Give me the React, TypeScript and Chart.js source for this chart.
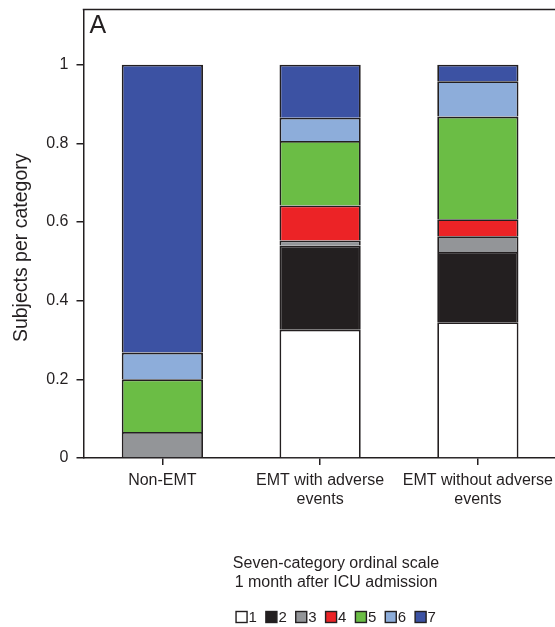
import React, { useEffect, useRef } from 'react';
import { Chart, registerables } from 'chart.js';

Chart.register(...registerables);

// ---- data ----
const categories = [['Non-EMT'], ['EMT with adverse', 'events'], ['EMT without adverse', 'events']];
const scaleLevels = ['1', '2', '3', '4', '5', '6', '7'];
const level1 = [0, 0.326, 0.345];
const level2 = [0, 0.214, 0.179];
const level3 = [0.066, 0.013, 0.04];
const level4 = [0, 0.089, 0.043];
const level5 = [0.134, 0.164, 0.261];
const level6 = [0.068, 0.059, 0.09];
const level7 = [0.732, 0.135, 0.042];
const levelValues = [level1, level2, level3, level4, level5, level6, level7];
const levelColors = ['#ffffff', '#231f20', '#939598', '#ec2326', '#6bbd45', '#8dadda', '#3c52a3'];
const yTicks = [0, 0.2, 0.4, 0.6, 0.8, 1];
const yTickLabels = ['0', '0.2', '0.4', '0.6', '0.8', '1'];
const yAxisTitle = 'Subjects per category';
const legendTitle = ['Seven-category ordinal scale', '1 month after ICU admission'];
const panelLabel = 'A';

// ---- style / layout ----
const INK = '#231f20';
const FAMILY = '"Liberation Sans", Arial, Helvetica, sans-serif';
const CANVAS_W = 559;
const CANVAS_H = 627;
const LEGEND_CX = 336;

const decorPlugin = {
  id: 'decor',
  afterDraw(chart: any) {
    const { ctx, chartArea } = chart;
    ctx.save();
    // top frame line
    ctx.strokeStyle = INK;
    ctx.lineWidth = 1.5;
    ctx.beginPath();
    ctx.moveTo(chartArea.left - 0.75, chartArea.top);
    ctx.lineTo(chartArea.right + 5, chartArea.top);
    ctx.stroke();

    // panel label
    ctx.fillStyle = INK;
    ctx.font = `25px ${FAMILY}`;
    ctx.textAlign = 'left';
    ctx.textBaseline = 'alphabetic';
    ctx.fillText(panelLabel, chartArea.left + 6, chartArea.top + 23);

    // y axis title
    ctx.save();
    ctx.translate(22, (chartArea.top + chartArea.bottom) / 2 + 14);
    ctx.rotate(-Math.PI / 2);
    ctx.font = `19.5px ${FAMILY}`;
    ctx.textAlign = 'center';
    ctx.textBaseline = 'middle';
    ctx.fillText(yAxisTitle, 0, 0);
    ctx.restore();

    // legend title
    ctx.font = `16px ${FAMILY}`;
    ctx.textAlign = 'center';
    ctx.textBaseline = 'middle';
    legendTitle.forEach((line, i) => ctx.fillText(line, LEGEND_CX, 564 + i * 19));

    // legend items
    ctx.font = `15px ${FAMILY}`;
    const box = 11;
    const gapText = 1.5;
    const gapItem = 9;
    const items = chart.data.datasets.map((ds: any) => ({ label: ds.label, color: ds.backgroundColor }));
    const widths = items.map((it: any) => box + gapText + ctx.measureText(it.label).width);
    const total = widths.reduce((a: number, b: number) => a + b, 0) + gapItem * (items.length - 1);
    let x = LEGEND_CX - total / 2;
    const cy = 617;
    ctx.textAlign = 'left';
    items.forEach((it: any, i: number) => {
      ctx.fillStyle = it.color;
      ctx.fillRect(x, cy - box / 2, box, box);
      ctx.strokeStyle = INK;
      ctx.lineWidth = 1.4;
      ctx.strokeRect(x, cy - box / 2, box, box);
      ctx.fillStyle = INK;
      ctx.fillText(it.label, x + box + gapText, cy + 0.5);
      x += widths[i] + gapItem;
    });
    ctx.restore();
  },
};

export default function App() {
  const ref = useRef<HTMLCanvasElement | null>(null);

  useEffect(() => {
    if (!ref.current) return;
    const chart = new Chart(ref.current, {
      type: 'bar',
      data: {
        labels: categories as any,
        datasets: levelValues.map((vals, i) => ({
          label: scaleLevels[i],
          data: vals,
          backgroundColor: levelColors[i],
          borderColor: INK,
          borderWidth: 1.8,
          barPercentage: 0.515,
          categoryPercentage: 1,
        })),
      },
      options: {
        responsive: false,
        animation: false,
        layout: { padding: { top: 9, bottom: 109, left: 0, right: 0 } },
        plugins: { legend: { display: false }, tooltip: { enabled: false }, title: { display: false } },
        scales: {
          x: {
            stacked: true,
            grid: { display: true, drawOnChartArea: false, offset: false, tickLength: 7, color: INK, lineWidth: 1.5 },
            border: { display: true, color: INK, width: 1.5 },
            ticks: {
              color: INK,
              font: { family: FAMILY, size: 16, lineHeight: 1.2 },
              padding: 6,
              maxRotation: 0,
              autoSkip: false,
            },
            afterFit: (s: any) => {
              s.height = 60;
            },
          },
          y: {
            stacked: true,
            min: 0,
            max: 1.14,
            afterBuildTicks: (s: any) => {
              s.ticks = yTicks.map((v) => ({ value: v }));
            },
            grid: { display: true, drawOnChartArea: false, tickLength: 7, color: INK, lineWidth: 1.5 },
            border: { display: true, color: INK, width: 1.5 },
            ticks: {
              color: INK,
              font: { family: FAMILY, size: 16, lineHeight: 0.2 },
              padding: 8,
              autoSkip: false,
              callback: (v: any) => yTickLabels[yTicks.indexOf(Number(v))],
            },
            afterFit: (s: any) => {
              s.width = 83.5;
            },
          },
        },
      },
      plugins: [decorPlugin],
    });
    return () => chart.destroy();
  }, []);

  return (
    <div style={{ position: 'fixed', left: 0, top: 0, width: 555, height: 627, overflow: 'hidden', background: '#fff' }}>
      <canvas ref={ref} width={CANVAS_W} height={CANVAS_H} style={{ display: 'block' }} />
    </div>
  );
}
